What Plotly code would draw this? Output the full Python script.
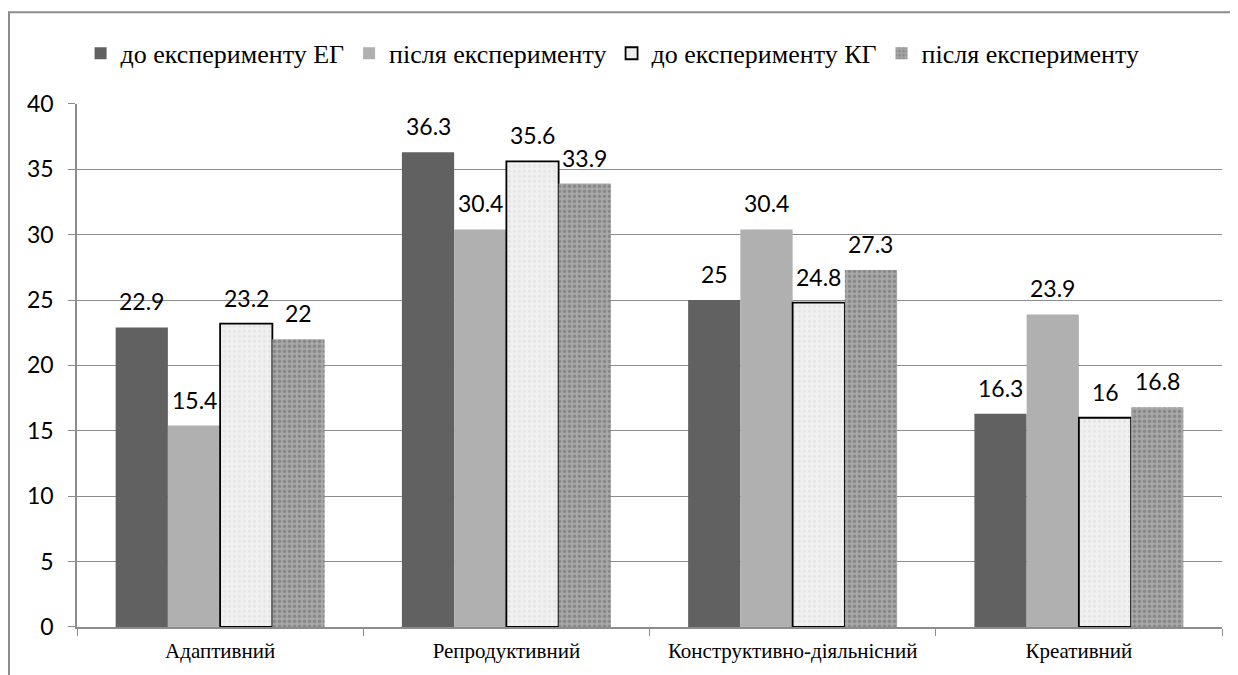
import plotly.graph_objects as go

categories = ["Адаптивний", "Репродуктивний", "Конструктивно-діяльнісний", "Креативний"]
series_names = ["до експерименту ЕГ", "після експерименту", "до експерименту КГ", "після експерименту"]
eg_before = [22.9, 36.3, 25, 16.3]
eg_after = [15.4, 30.4, 30.4, 23.9]
kg_before = [23.2, 35.6, 24.8, 16]
kg_after = [22, 33.9, 27.3, 16.8]
y_ticks = [0, 5, 10, 15, 20, 25, 30, 35, 40]

SERIF = "Liberation Serif, Times New Roman, serif"
SANS = "Lato"
W, H = 1230, 667
ML, MR, MT, MB = 69, 16, 95, 46
BARGAP = 0.27

fig = go.Figure()
styles = [
    dict(color="#616161", line=dict(width=0)),
    dict(color="#b0b0b0", line=dict(width=0)),
    dict(color="#efefef", line=dict(width=1.8, color="#000000"),
         pattern=dict(shape=".", bgcolor="#f1f1f1", fgcolor="#dcdcdc", size=5, solidity=0.35)),
    dict(color="#999999", line=dict(width=0),
         pattern=dict(shape=".", bgcolor="#a8a8a8", fgcolor="#666666", size=5, solidity=0.4)),
]
all_series = [eg_before, eg_after, kg_before, kg_after]
for name, vals, st in zip(series_names, all_series, styles):
    fig.add_trace(go.Bar(name=name, x=categories, y=vals, marker=st))

# value labels: centred on each bar, a fixed distance above its top
plot_w = W - ML - MR
bar_w = plot_w / len(categories) * (1 - BARGAP) / len(all_series)
for i, vals in enumerate(all_series):
    for cat, v in zip(categories, vals):
        fig.add_annotation(x=cat, y=v, text=str(v), showarrow=False,
                           xshift=(i - 1.5) * bar_w, yshift=26,
                           xanchor="center", yanchor="middle",
                           font=dict(family=SANS, size=23, color="#000000"))

fig.update_layout(
    width=W, height=H,
    margin=dict(l=ML, r=MR, t=MT, b=MB),
    paper_bgcolor="white", plot_bgcolor="white",
    font=dict(family=SERIF, color="#000000"),
    barmode="group", bargap=BARGAP, bargroupgap=0,
    showlegend=True,
    legend=dict(orientation="h", xref="container", yref="container", x=0.059, y=0.932,
                xanchor="left", yanchor="middle",
                font=dict(family=SERIF, size=26, color="#000000"),
                itemwidth=30, traceorder="normal"),
    xaxis=dict(tickfont=dict(family=SERIF, size=21, color="#000000"),
               showline=True, linecolor="#8c8c8c", linewidth=1.5,
               ticks="outside", tickson="boundaries", ticklen=7, tickcolor="#8c8c8c",
               ticklabelstandoff=4, showgrid=False),
    yaxis=dict(range=[0, 40], tickvals=y_ticks,
               tickfont=dict(family=SANS, size=23, color="#000000"),
               showline=True, linecolor="#8c8c8c", linewidth=1.5,
               ticks="outside", ticklen=7, tickcolor="#8c8c8c", ticklabelstandoff=10,
               showgrid=True, gridcolor="#8c8c8c", gridwidth=1.2, zeroline=False),
    shapes=[dict(type="rect", xref="paper", yref="paper", x0=-0.0594, x1=1.1, y0=-0.3, y1=1.175,
                 line=dict(color="#8c8c8c", width=2), fillcolor="rgba(0,0,0,0)", layer="below")],
)

fig.write_html("out.html")
